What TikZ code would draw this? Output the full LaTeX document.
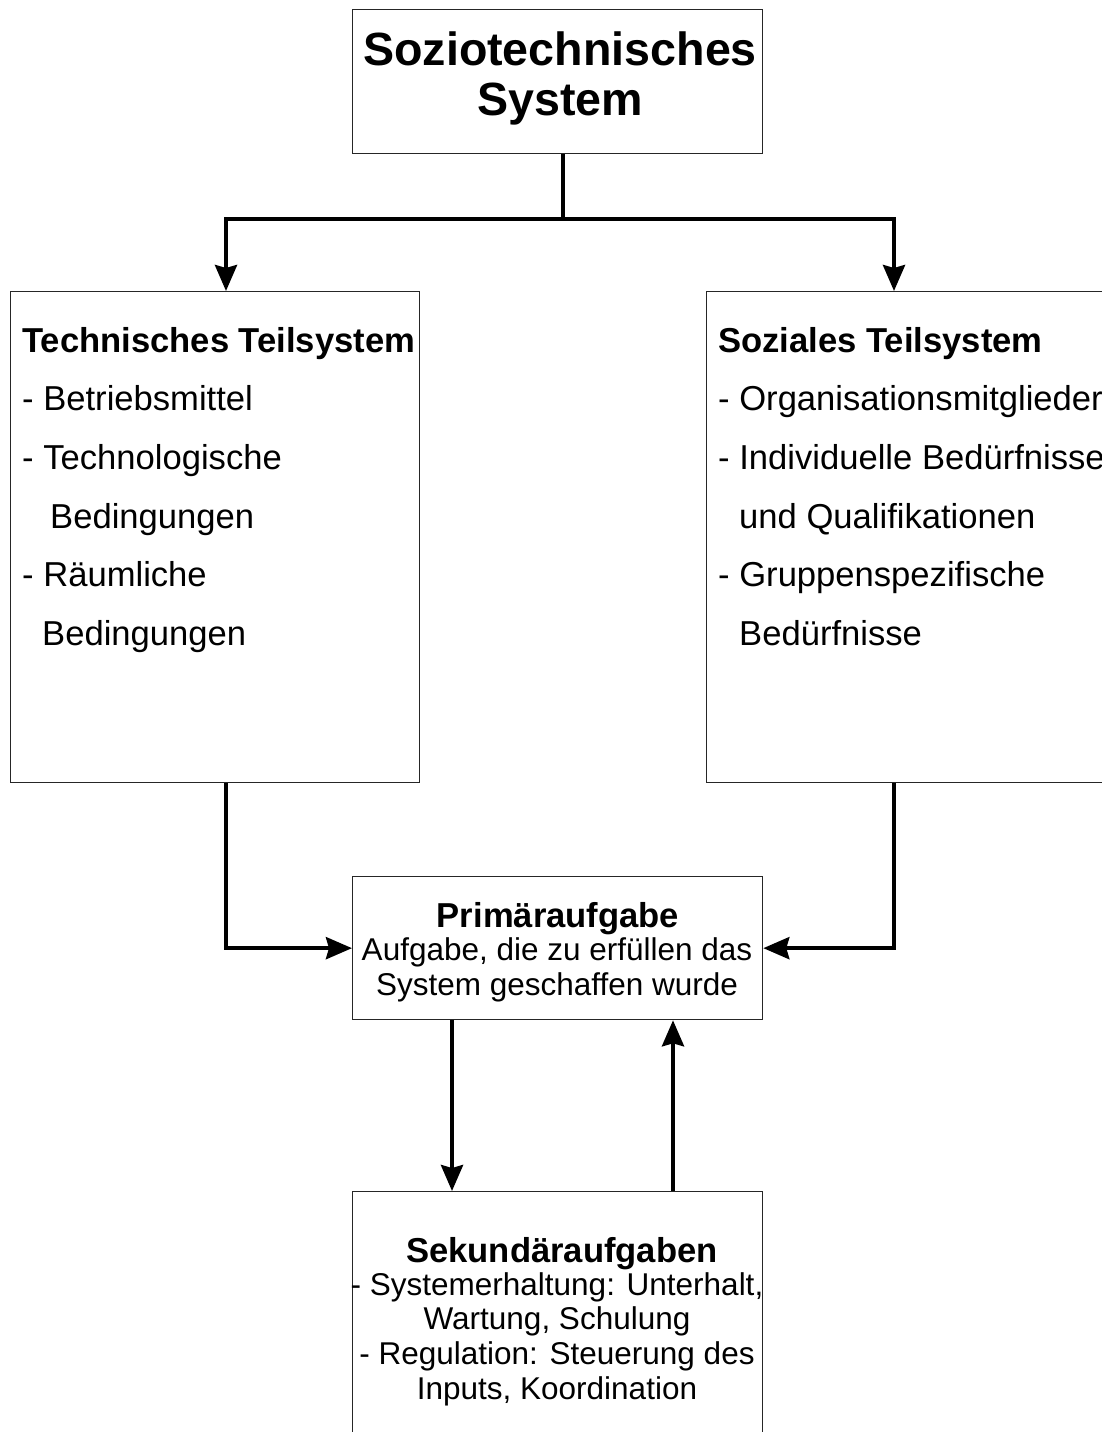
\documentclass[tikz,border=0pt]{standalone}
\usepackage{fontspec}
\setmainfont{Liberation Sans}
\usetikzlibrary{arrows.meta}

\begin{document}
\begin{tikzpicture}[x=1pt,y=-1pt,
  box/.style={draw=black!85, line width=1.3pt, fill=white, inner sep=0pt, anchor=north west},
  txt/.style={inner sep=0pt, anchor=base west, align=left},
  ctr/.style={inner sep=0pt, anchor=base, align=center},
  conn/.style={line width=4pt, draw=black, line join=miter},
  arr/.style={conn, -{Stealth[length=26pt,width=22pt,inset=3pt]}},
  side/.style={font=\fontsize{34.6pt}{58.7pt}\selectfont},
  head/.style={font=\bfseries\fontsize{34.6pt}{40pt}\selectfont},
  body/.style={font=\fontsize{31.5pt}{34.8pt}\selectfont},
]
\useasboundingbox (0,0) rectangle (1102,1432);
\clip (0,0) rectangle (1102,1432);
\fill[white] (0,0) rectangle (1102,1432);

% boxes
\node[box, minimum width=410pt, minimum height=144pt] (top) at (352,9) {};
\node[box, minimum width=409pt, minimum height=491pt] (tech) at (10,291) {};
\node[box, minimum width=409pt, minimum height=491pt] (soc) at (706,291) {};
\node[box, minimum width=410pt, minimum height=143pt] (prim) at (352,876) {};
\node[box, minimum width=410pt, minimum height=300pt] (sek) at (352,1191) {};

% texts (multi-line nodes sit on the baseline of their last line)
\node[ctr, font=\bfseries\fontsize{46.6pt}{50pt}\selectfont] (toptxt) at (560,115)
  {Soziotechnisches\\System};

\node[txt, side] (techtxt) at (22,645.5)
  {\textbf{Technisches Teilsystem}\\- Betriebsmittel\\- Technologische\\\hspace*{28pt}Bedingungen\\- Räumliche\\\hspace*{20pt}Bedingungen};

\node[txt, side] (soctxt) at (718,645.5)
  {\textbf{Soziales Teilsystem}\\- Organisationsmitglieder\\- Individuelle Bedürfnisse\\\hspace*{21pt}und Qualifikationen\\- Gruppenspezifische\\\hspace*{21pt}Bedürfnisse};

\node[ctr, head] (primhead) at (558,927) {Primäraufgabe};
\node[ctr, body] (primbody) at (557,995.5)
  {Aufgabe, die zu erfüllen das\\System geschaffen wurde};

\node[ctr, head] (sekhead) at (562,1262) {Sekundäraufgaben};
\node[ctr, body] (sekbody) at (557,1399.5)
  {- Systemerhaltung: Unterhalt,\\Wartung, Schulung\\- Regulation: Steuerung des\\Inputs, Koordination};

% connectors
\coordinate (j) at (563,219);
\coordinate (tl) at (226,0);
\coordinate (tr) at (894,0);
\coordinate (dn) at (452,0);
\coordinate (up) at (673,0);

\draw[conn] (top.south -| j) -- (j);
\draw[arr] (j) -| (tl |- tech.north);
\draw[arr] (j) -| (tr |- soc.north);
\draw[arr] (tech.south -| tl) |- (prim.west);
\draw[arr] (soc.south -| tr) |- (prim.east);
\draw[arr] (prim.south -| dn) -- (sek.north -| dn);
\draw[arr] (sek.north -| up) -- (prim.south -| up);
\end{tikzpicture}
\end{document}
